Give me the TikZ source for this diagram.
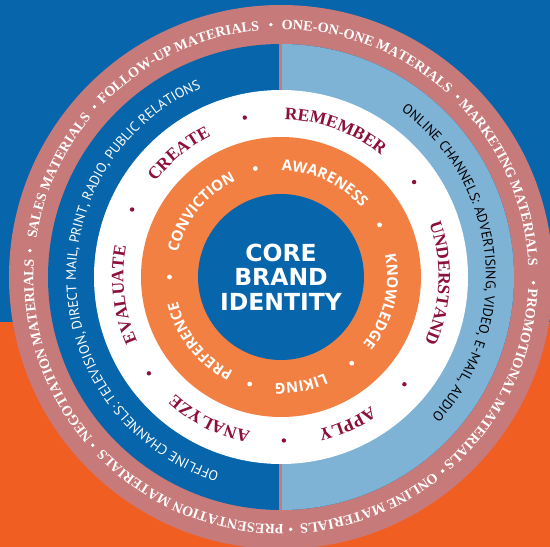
\documentclass[tikz,border=0pt]{standalone}
\usepackage{fontspec}
\usetikzlibrary{decorations.text}

\newfontfamily\ringserif{Liberation Serif}
\newfontfamily\ringsans{PT Sans}
\newfontfamily\wordsans{Open Sans}
\newfontfamily\coresans{DejaVu Sans}

\definecolor{brandblue}{RGB}{6,101,171}
\definecolor{brandorange}{RGB}{241,94,34}
\definecolor{ringpink}{RGB}{199,122,122}
\definecolor{ringorange}{RGB}{242,128,66}
\definecolor{onlineblue}{RGB}{127,179,214}
\definecolor{bloommaroon}{RGB}{140,16,56}

\newcommand\materialsfont{\ringserif\bfseries\fontsize{14.2}{17}\selectfont\color{white}}
\newcommand\offlinefont{\ringsans\fontsize{13.9}{16}\selectfont\color{white}}
\newcommand\onlinefont{\ringsans\fontsize{13.9}{16}\selectfont\color{black}}
\newcommand\bloomfont{\ringserif\bfseries\fontsize{17.5}{20}\selectfont\color{bloommaroon}}
\newcommand\stagefont{\wordsans\bfseries\fontsize{15}{18}\selectfont\color{white}}

% words set clockwise round a circle: radius, middle angle, half span, font, text
\newcommand\arcwords[5]{%
  \path[decorate, decoration={text along path, text align=center,
    text={|#4|#5}}] ({#2+#3}:#1) arc[start angle={#2+#3}, end angle={#2-#3},
    radius=#1];}

\begin{document}
\begin{tikzpicture}[x=1pt, y=1pt,
    pink dot/.style={fill=white},
    bloom dot/.style={fill=bloommaroon},
    stage dot/.style={fill=white},
    core/.style={circle, fill=brandblue, minimum size=166pt, inner sep=0pt,
      align=center, text=white,
      font=\coresans\bfseries\fontsize{23.5}{24.5}\selectfont}]

  \useasboundingbox (-281,-270) rectangle (269,277);

  \fill[brandblue] (-281,-45) rectangle (269,277);
  \fill[brandorange] (-281,-270) rectangle (269,-45);

  \fill[ringpink] (0,0) circle[radius=272pt];
  \fill[brandblue] (0,0) circle[radius=233pt];
  \fill[onlineblue] (90:233pt) arc[start angle=90, end angle=-90,
    radius=233pt] -- cycle;
  \draw[ringpink, line width=3pt] (0,186) -- (0,234) (0,-186) -- (0,-234);
  \fill[white] (0,0) circle[radius=187pt];
  \fill[ringorange] (0,0) circle[radius=140pt];

  \node[core] (core) at (0,0) {CORE\\BRAND\\IDENTITY};

  % outer ring
  \arcwords{247.6pt}{115.5}{60}{\materialsfont}{FOLLOW-UP MATERIALS}
  \arcwords{247.6pt}{68.8}{60}{\materialsfont}{ONE-ON-ONE MATERIALS}
  \arcwords{247.6pt}{23.4}{60}{\materialsfont}{MARKETING MATERIALS}
  \arcwords{247.6pt}{-25.9}{60}{\materialsfont}{PROMOTIONAL MATERIALS}
  \arcwords{247.6pt}{-68.8}{60}{\materialsfont}{ONLINE MATERIALS}
  \arcwords{247.6pt}{-112.7}{60}{\materialsfont}{PRESENTATION MATERIALS}
  \arcwords{247.6pt}{198.2}{60}{\materialsfont}{NEGOTIATION MATERIALS}
  \arcwords{247.6pt}{155.6}{60}{\materialsfont}{SALES MATERIALS}
  \fill[pink dot] (92.3:252.5pt) circle[radius=1.9pt];
  \fill[pink dot] (45.6:252.5pt) circle[radius=1.9pt];
  \fill[pink dot] (-1.3:252.5pt) circle[radius=1.9pt];
  \fill[pink dot] (-50.2:252.5pt) circle[radius=1.9pt];
  \fill[pink dot] (-87.8:252.5pt) circle[radius=1.9pt];
  \fill[pink dot] (-138.2:252.5pt) circle[radius=1.9pt];
  \fill[pink dot] (174:252.5pt) circle[radius=1.9pt];
  \fill[pink dot] (137.6:252.5pt) circle[radius=1.9pt];

  % channels
  \arcwords{205pt}{5.7}{100}{\onlinefont}{ONLINE CHANNELS: ADVERTISING, VIDEO, E-MAIL, AUDIO}
  \arcwords{205pt}{182.7}{100}{\offlinefont}{OFFLINE CHANNELS: TELEVISION, DIRECT MAIL, PRINT, RADIO, PUBLIC RELATIONS}

  % white ring
  \arcwords{157.6pt}{69.6}{50}{\bloomfont}{REMEMBER}
  \arcwords{157.6pt}{-2.3}{50}{\bloomfont}{UNDERSTAND}
  \arcwords{157.6pt}{-65.8}{50}{\bloomfont}{APPLY}
  \arcwords{157.6pt}{-116.7}{50}{\bloomfont}{ANALYZE}
  \arcwords{157.6pt}{186.5}{50}{\bloomfont}{EVALUATE}
  \arcwords{157.6pt}{129.6}{50}{\bloomfont}{CREATE}
  \fill[bloom dot] (35.5:163.5pt) circle[radius=2.2pt];
  \fill[bloom dot] (-41:163.5pt) circle[radius=2.2pt];
  \fill[bloom dot] (-89:163.5pt) circle[radius=2.2pt];
  \fill[bloom dot] (-143.9:163.5pt) circle[radius=2.2pt];
  \fill[bloom dot] (155.6:163.5pt) circle[radius=2.2pt];
  \fill[bloom dot] (102.8:163.5pt) circle[radius=2.2pt];

  % orange ring
  \arcwords{106.1pt}{65.2}{60}{\stagefont}{AWARENESS}
  \arcwords{106.1pt}{-13.7}{60}{\stagefont}{KNOWLEDGE}
  \arcwords{106.1pt}{-79.5}{60}{\stagefont}{LIKING}
  \arcwords{106.1pt}{-141.7}{60}{\stagefont}{PREFERENCE}
  \arcwords{106.1pt}{141}{60}{\stagefont}{CONVICTION}
  \fill[stage dot] (27.9:111.5pt) circle[radius=2.4pt];
  \fill[stage dot] (-50.6:111.5pt) circle[radius=2.4pt];
  \fill[stage dot] (-106.3:111.5pt) circle[radius=2.4pt];
  \fill[stage dot] (180:111.5pt) circle[radius=2.4pt];
  \fill[stage dot] (103.3:111.5pt) circle[radius=2.4pt];

\end{tikzpicture}
\end{document}
